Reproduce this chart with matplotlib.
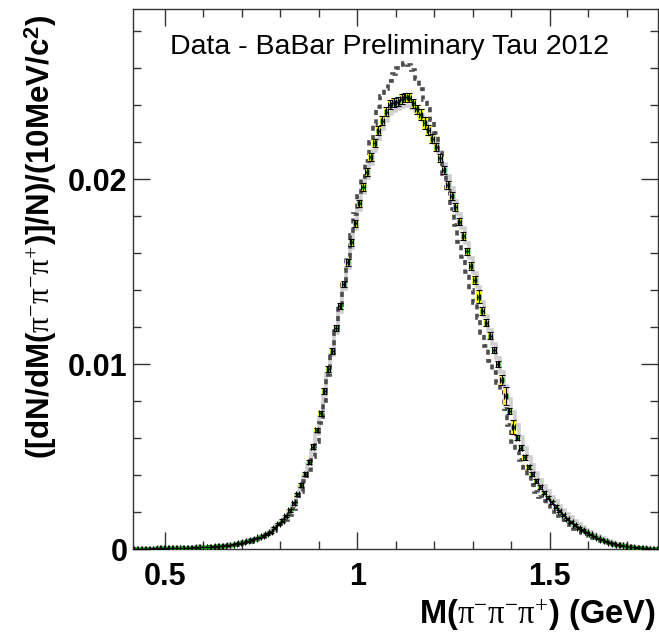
import numpy as np
import matplotlib
matplotlib.use("Agg")
import matplotlib.pyplot as plt
from matplotlib.ticker import MultipleLocator

plt.rcParams["font.family"] = ["Liberation Sans", "DejaVu Sans"]
plt.rcParams["mathtext.fontset"] = "custom"
plt.rcParams["mathtext.rm"] = "Liberation Serif"
plt.rcParams["mathtext.it"] = "Liberation Serif:italic"
plt.rcParams["mathtext.bf"] = "Liberation Sans:bold"

# 10 MeV bins from 0.42 to 1.78 GeV
bin_lo, bin_hi, bin_w = 0.42, 1.78, 0.01

# normalised data (points)
data = [
    0.00002, 0.00002, 0.00003, 0.00003, 0.00004, 0.00004, 0.00005, 0.00005, 0.00005, 0.00006,
    0.00006, 0.00007, 0.00007, 0.00008, 0.00008, 0.00009, 0.00010, 0.00011, 0.00012, 0.00013,
    0.00014, 0.00016, 0.00018, 0.00020, 0.00022, 0.00025, 0.00029, 0.00033, 0.00038, 0.00043,
    0.00050, 0.00057, 0.00065, 0.00074, 0.00083, 0.00095, 0.00114, 0.00135, 0.00155, 0.00180,
    0.00212, 0.00249, 0.00297, 0.00348, 0.00407, 0.00474, 0.00555, 0.00645, 0.00735, 0.00856,
    0.00973, 0.01074, 0.01195, 0.01315, 0.01434, 0.01551, 0.01659, 0.01762, 0.01870, 0.01960,
    0.02041, 0.02122, 0.02195, 0.02263, 0.02317, 0.02365, 0.02402, 0.02414, 0.02420, 0.02432,
    0.02443, 0.02440, 0.02411, 0.02378, 0.02348, 0.02306, 0.02266, 0.02218, 0.02173, 0.02117,
    0.02050, 0.01969, 0.01910, 0.01852, 0.01771, 0.01694, 0.01611, 0.01531, 0.01456, 0.01366,
    0.01288, 0.01225, 0.01155, 0.01076, 0.01000, 0.00915, 0.00829, 0.00748, 0.00661, 0.00603,
    0.00549, 0.00497, 0.00446, 0.00407, 0.00369, 0.00338, 0.00306, 0.00279, 0.00254, 0.00230,
    0.00207, 0.00185, 0.00165, 0.00149, 0.00130, 0.00115, 0.00104, 0.00092, 0.00080, 0.00070,
    0.00060, 0.00051, 0.00043, 0.00036, 0.00030, 0.00025, 0.00021, 0.00017, 0.00014, 0.00011,
    0.00009, 0.00007, 0.00005, 0.00004, 0.00003, 0.00002,
]

# systematic error (yellow boxes)
sys_err = [
    0.00001, 0.00001, 0.00001, 0.00001, 0.00001, 0.00001, 0.00001, 0.00001, 0.00001, 0.00001,
    0.00001, 0.00001, 0.00001, 0.00001, 0.00001, 0.00001, 0.00001, 0.00001, 0.00001, 0.00001,
    0.00002, 0.00002, 0.00002, 0.00002, 0.00002, 0.00002, 0.00003, 0.00003, 0.00003, 0.00003,
    0.00004, 0.00004, 0.00004, 0.00005, 0.00005, 0.00005, 0.00006, 0.00006, 0.00007, 0.00007,
    0.00008, 0.00008, 0.00009, 0.00010, 0.00010, 0.00011, 0.00012, 0.00013, 0.00014, 0.00015,
    0.00016, 0.00016, 0.00017, 0.00018, 0.00018, 0.00019, 0.00019, 0.00020, 0.00020, 0.00021,
    0.00021, 0.00022, 0.00022, 0.00023, 0.00023, 0.00024, 0.00025, 0.00025, 0.00025, 0.00026,
    0.00025, 0.00025, 0.00024, 0.00024, 0.00030, 0.00032, 0.00026, 0.00024, 0.00022, 0.00022,
    0.00021, 0.00021, 0.00020, 0.00021, 0.00020, 0.00020, 0.00020, 0.00020, 0.00022, 0.00036,
    0.00020, 0.00020, 0.00018, 0.00015, 0.00016, 0.00027, 0.00049, 0.00015, 0.00040, 0.00015,
    0.00013, 0.00012, 0.00012, 0.00011, 0.00010, 0.00010, 0.00009, 0.00009, 0.00008, 0.00008,
    0.00007, 0.00007, 0.00006, 0.00006, 0.00005, 0.00005, 0.00005, 0.00004, 0.00004, 0.00004,
    0.00003, 0.00003, 0.00003, 0.00002, 0.00002, 0.00002, 0.00002, 0.00001, 0.00001, 0.00001,
    0.00001, 0.00001, 0.00001, 0.00001, 0.00001, 0.00001,
]

# light grey solid histogram
mc_solid = [
    0.00002, 0.00002, 0.00003, 0.00003, 0.00004, 0.00004, 0.00005, 0.00005, 0.00005, 0.00006,
    0.00006, 0.00007, 0.00007, 0.00008, 0.00008, 0.00009, 0.00010, 0.00011, 0.00012, 0.00013,
    0.00014, 0.00016, 0.00018, 0.00020, 0.00022, 0.00025, 0.00028, 0.00032, 0.00037, 0.00042,
    0.00048, 0.00055, 0.00063, 0.00072, 0.00081, 0.00093, 0.00110, 0.00130, 0.00150, 0.00175,
    0.00205, 0.00240, 0.00287, 0.00336, 0.00394, 0.00460, 0.00538, 0.00625, 0.00715, 0.00833,
    0.00948, 0.01050, 0.01168, 0.01285, 0.01405, 0.01520, 0.01628, 0.01730, 0.01835, 0.01925,
    0.02005, 0.02085, 0.02155, 0.02220, 0.02270, 0.02315, 0.02350, 0.02370, 0.02380, 0.02390,
    0.02395, 0.02395, 0.02385, 0.02370, 0.02345, 0.02315, 0.02280, 0.02240, 0.02195, 0.02145,
    0.02085, 0.02020, 0.01955, 0.01885, 0.01810, 0.01735, 0.01655, 0.01575, 0.01495, 0.01415,
    0.01335, 0.01260, 0.01185, 0.01110, 0.01035, 0.00960, 0.00885, 0.00810, 0.00740, 0.00670,
    0.00605, 0.00550, 0.00500, 0.00455, 0.00414, 0.00377, 0.00344, 0.00313, 0.00285, 0.00260,
    0.00236, 0.00213, 0.00192, 0.00172, 0.00154, 0.00137, 0.00121, 0.00107, 0.00094, 0.00082,
    0.00071, 0.00061, 0.00052, 0.00044, 0.00037, 0.00031, 0.00026, 0.00021, 0.00017, 0.00014,
    0.00011, 0.00009, 0.00007, 0.00005, 0.00004, 0.00003,
]

# dark grey dashed histogram
mc_dashed = [
    0.00001, 0.00001, 0.00002, 0.00002, 0.00002, 0.00003, 0.00003, 0.00003, 0.00004, 0.00004,
    0.00004, 0.00005, 0.00005, 0.00006, 0.00006, 0.00007, 0.00008, 0.00009, 0.00010, 0.00011,
    0.00012, 0.00013, 0.00015, 0.00017, 0.00019, 0.00021, 0.00024, 0.00028, 0.00032, 0.00037,
    0.00042, 0.00048, 0.00055, 0.00064, 0.00075, 0.00087, 0.00101, 0.00117, 0.00135, 0.00157,
    0.00185, 0.00220, 0.00260, 0.00310, 0.00370, 0.00430, 0.00500, 0.00580, 0.00680, 0.00800,
    0.00940, 0.01060, 0.01180, 0.01320, 0.01450, 0.01580, 0.01700, 0.01810, 0.01910, 0.02010,
    0.02100, 0.02200, 0.02300, 0.02390, 0.02450, 0.02490, 0.02530, 0.02570, 0.02600, 0.02620,
    0.02630, 0.02620, 0.02590, 0.02540, 0.02490, 0.02430, 0.02380, 0.02320, 0.02250, 0.02140,
    0.02030, 0.01930, 0.01840, 0.01750, 0.01660, 0.01580, 0.01500, 0.01400, 0.01330, 0.01250,
    0.01170, 0.01100, 0.01020, 0.00960, 0.00900, 0.00850, 0.00760, 0.00670, 0.00580, 0.00530,
    0.00480, 0.00440, 0.00390, 0.00350, 0.00310, 0.00280, 0.00260, 0.00240, 0.00220, 0.00200,
    0.00180, 0.00160, 0.00145, 0.00130, 0.00112, 0.00097, 0.00087, 0.00080, 0.00070, 0.00062,
    0.00054, 0.00046, 0.00040, 0.00034, 0.00028, 0.00023, 0.00019, 0.00016, 0.00013, 0.00010,
    0.00008, 0.00006, 0.00005, 0.00004, 0.00003, 0.00002,
]

x_ticks = [0.5, 1.0, 1.5]
x_ticklabels = ["0.5", "1", "1.5"]
y_ticks = [0.0, 0.01, 0.02]
y_ticklabels = ["0", "0.01", "0.02"]


def main() -> None:
    edges = np.round(np.arange(bin_lo, bin_hi + bin_w / 2, bin_w), 3)
    centers = 0.5 * (edges[:-1] + edges[1:])
    y = np.array(data)
    e = np.array(sys_err)

    fig = plt.figure(figsize=(6.59, 6.38), dpi=100)
    ax = fig.add_axes([133 / 659, 1 - 549.3 / 638, (657.7 - 133) / 659, (549.3 - 9) / 638])

    ax.stairs(mc_solid, edges, color="#cfcfcf", lw=2.6, zorder=1)
    ax.stairs(mc_dashed, edges, color="#4d4d4d", lw=2.6,
              linestyle=(0, (1.4, 1.2)), zorder=2)

    # systematic boxes, markers and error bars
    ax.bar(centers, 2 * e, bottom=y - e, width=0.012, color="#ffff00",
           edgecolor="none", zorder=3)
    ax.plot(centers, y, "s", color="#00c000", ms=3.4, mec="none", zorder=4)
    ax.errorbar(centers, y, yerr=e, xerr=0.004, fmt="none", ecolor="black",
                elinewidth=0.8, capsize=2.0, capthick=0.8, zorder=5)

    ax.set_xlim(0.418, 1.78)
    ax.set_ylim(0, 0.0292)
    ax.set_xticks(x_ticks, x_ticklabels)
    ax.set_yticks(y_ticks, y_ticklabels)
    ax.xaxis.set_minor_locator(MultipleLocator(0.1))
    ax.yaxis.set_minor_locator(MultipleLocator(0.002))

    axis_col = "#333333"
    for s in ax.spines.values():
        s.set_color(axis_col)
        s.set_linewidth(1.0)
    ax.tick_params(which="both", direction="in", top=True, right=True,
                   color=axis_col, width=1.0)
    ax.tick_params(which="major", length=12)
    ax.tick_params(which="minor", length=6)
    ax.tick_params(axis="x", which="major", pad=9, labelsize=22)
    ax.tick_params(axis="y", which="major", pad=4, labelsize=22)
    for lab in ax.get_xticklabels() + ax.get_yticklabels():
        lab.set_fontweight("bold")

    ax.text(0.489, 0.93, "Data - BaBar Preliminary Tau 2012", transform=ax.transAxes,
            ha="center", va="center", fontsize=20.5)

    fig.text(656 / 659, 1 - 615 / 638,
             r"M($\mathrm{\pi^{-}\pi^{-}\pi^{+}}$) (GeV)",
             ha="right", va="center", fontsize=23.5, fontweight="bold")
    fig.text(41 / 659, 1 - 14 / 638,
             r"([dN/dM($\mathrm{\pi^{-}\pi^{-}\pi^{+}}$)]/N)/(10MeV/c$^{\mathbf{2}}$)",
             rotation=90, ha="center", va="top", fontsize=22.5, fontweight="bold")

    fig.savefig("out.png", dpi=100)


if __name__ == "__main__":
    main()
